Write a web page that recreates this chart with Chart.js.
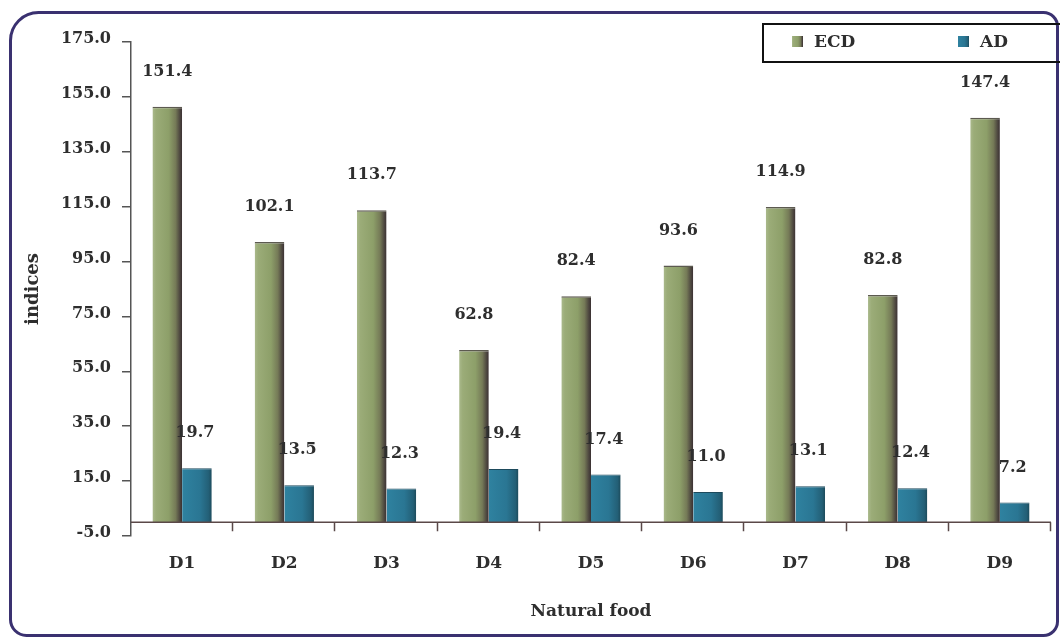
<!DOCTYPE html>
<html><head><meta charset="utf-8">
<script src="https://cdn.jsdelivr.net/npm/chart.js@4.4.1/dist/chart.umd.min.js"></script>
<style>html,body{margin:0;padding:0;background:#fff;}canvas{display:block;}</style>
</head><body>
<canvas id="c" width="1060" height="639"></canvas>
<script>
const categories = ['D1','D2','D3','D4','D5','D6','D7','D8','D9'];
const ecdValues = [151.4, 102.1, 113.7, 62.8, 82.4, 93.6, 114.9, 82.8, 147.4];
const adValues = [19.7, 13.5, 12.3, 19.4, 17.4, 11.0, 13.1, 12.4, 7.2];
const seriesNames = ['ECD', 'AD'];
const yTickValues = [-5, 15, 35, 55, 75, 95, 115, 135, 155, 175];
const xTitle = 'Natural food';
const yTitle = 'indices';

const FONT = '"DejaVu Serif", "Liberation Serif", serif';
const TEXT = '#2e2e2e';
const CAT_PCT = 0.58;
const ecdStops = [[0,'#aab98c'],[0.12,'#9bac78'],[0.55,'#8d9f69'],[0.78,'#757a57'],[0.92,'#4e4840'],[1,'#3a3032']];
const adStops = [[0,'#2f82a0'],[0.6,'#2a7693'],[0.9,'#235f76'],[1,'#1c4a5a']];

function barFill(stops, side) {
  return function(ctx) {
    const chart = ctx.chart;
    const xs = chart.scales.x;
    if (!xs || ctx.dataIndex === undefined || !chart.chartArea) return stops[1][1];
    const cat = (chart.chartArea.right - chart.chartArea.left) / categories.length;
    const bw = cat * CAT_PCT / 2;
    const c = xs.getPixelForValue(ctx.dataIndex);
    const x0 = side === 0 ? c - bw : c;
    const g = chart.ctx.createLinearGradient(x0, 0, x0 + bw, 0);
    stops.forEach(s => g.addColorStop(s[0], s[1]));
    return g;
  };
}

const framePlugin = {
  id: 'frame',
  beforeDraw(chart) {
    const ctx = chart.ctx;
    ctx.save();
    ctx.fillStyle = '#ffffff';
    ctx.fillRect(0, 0, chart.width, chart.height);
    ctx.strokeStyle = '#3a3170';
    ctx.lineWidth = 3;
    ctx.beginPath();
    if (ctx.roundRect) {
      ctx.roundRect(10.5, 12.5, 1047, 623, [28, 14, 14, 16]);
    } else {
      ctx.rect(10.5, 12.5, 1047, 623);
    }
    ctx.stroke();
    ctx.restore();
  }
};

const axisPlugin = {
  id: 'zeroAxis',
  afterDatasetsDraw(chart) {
    const ctx = chart.ctx;
    const ca = chart.chartArea;
    const y0 = chart.scales.y.getPixelForValue(0);
    const xs = chart.scales.x;
    const half = (ca.right - ca.left) / categories.length / 2;
    ctx.save();
    ctx.strokeStyle = '#5a4848';
    ctx.lineWidth = 1.5;
    ctx.beginPath();
    ctx.moveTo(ca.left, y0);
    ctx.lineTo(ca.right, y0);
    categories.forEach((c, i) => {
      const x = Math.round(xs.getPixelForValue(i) + half) - 0.5;
      ctx.moveTo(x, y0);
      ctx.lineTo(x, y0 + 9);
    });
    ctx.stroke();
    // value labels
    ctx.font = 'bold 16px ' + FONT;
    ctx.fillStyle = TEXT;
    ctx.textAlign = 'center';
    ctx.textBaseline = 'middle';
    chart.data.datasets.forEach((ds, di) => {
      chart.getDatasetMeta(di).data.forEach((el, i) => {
        const dx = di === 1 ? -2 : 0;
        ctx.fillText(ds.data[i].toFixed(1), el.x + dx, el.y - 35);
      });
    });
    ctx.restore();
  }
};

const legendPlugin = {
  id: 'boxLegend',
  afterDraw(chart) {
    const ctx = chart.ctx;
    ctx.save();
    ctx.strokeStyle = '#111';
    ctx.lineWidth = 2;
    ctx.strokeRect(763, 24, 310, 38);
    const items = [
      {name: seriesNames[0], stops: ecdStops, x: 792},
      {name: seriesNames[1], stops: adStops, x: 958}
    ];
    ctx.font = 'bold 17px ' + FONT;
    ctx.textBaseline = 'middle';
    ctx.textAlign = 'left';
    items.forEach(it => {
      const g = ctx.createLinearGradient(it.x, 0, it.x + 11, 0);
      it.stops.forEach(s => g.addColorStop(s[0], s[1]));
      ctx.fillStyle = g;
      ctx.fillRect(it.x, 36, 11, 11);
      ctx.fillStyle = TEXT;
      ctx.fillText(it.name, it.x + 22, 43);
    });
    ctx.restore();
  }
};

new Chart(document.getElementById('c'), {
  type: 'bar',
  data: {
    labels: categories,
    datasets: [
      {label: seriesNames[0], data: ecdValues, backgroundColor: barFill(ecdStops, 0),
       borderColor: '#5c5a50', borderWidth: {top: 1.5, left: 0, right: 0, bottom: 0}, borderSkipped: 'start'},
      {label: seriesNames[1], data: adValues, backgroundColor: barFill(adStops, 1),
       borderColor: '#1d4a5c', borderWidth: {top: 1, left: 0, right: 0, bottom: 0}, borderSkipped: 'start'}
    ]
  },
  options: {
    responsive: false,
    animation: false,
    devicePixelRatio: 1,
    categoryPercentage: CAT_PCT,
    barPercentage: 1.0,
    layout: {padding: {left: 0, right: 9, top: 42, bottom: 0}},
    plugins: {legend: {display: false}, tooltip: {enabled: false}},
    scales: {
      x: {
        grid: {display: false},
        border: {display: false},
        ticks: {color: TEXT, font: {family: FONT, size: 17, weight: 'bold'}, padding: 9, maxRotation: 0},
        title: {display: true, text: xTitle, color: TEXT, font: {family: FONT, size: 17, weight: 'bold'}, padding: {top: 0, bottom: 17}},
        afterFit: s => { s.height = 103; }
      },
      y: {
        min: -5, max: 175,
        afterBuildTicks: s => { s.ticks = yTickValues.map(v => ({value: v})); },
        grid: {drawOnChartArea: false, tickLength: 9, color: '#555', lineWidth: 1.5},
        border: {display: true, color: '#555', width: 1.5},
        ticks: {color: TEXT, font: {family: FONT, size: 16, weight: 'bold'}, padding: 11, labelOffset: -3,
                callback: v => Number(v).toFixed(1)},
        title: {display: true, text: yTitle, color: TEXT, font: {family: FONT, size: 18, weight: 'bold'}, padding: {top: 23, bottom: 0}},
        afterFit: s => { s.width = 131; }
      }
    }
  },
  plugins: [framePlugin, axisPlugin, legendPlugin]
});
</script>
</body></html>
